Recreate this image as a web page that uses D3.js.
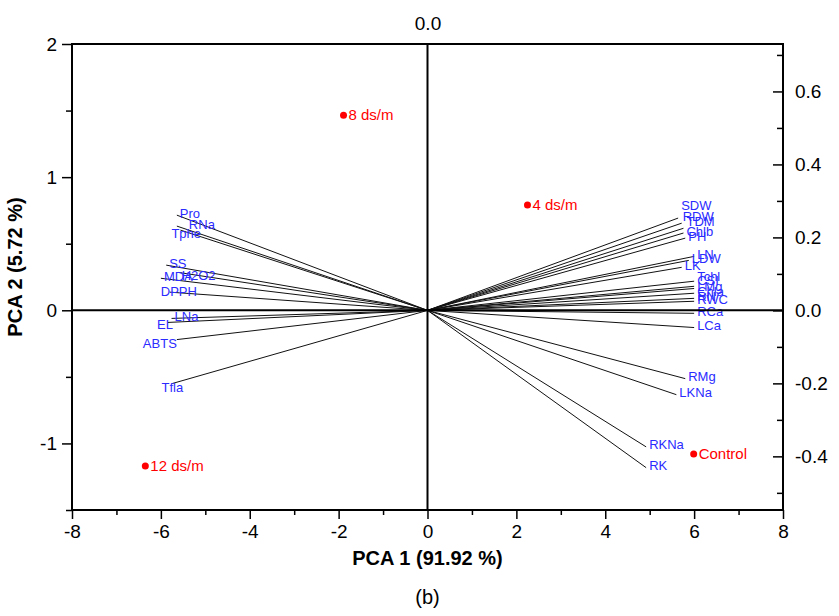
<!DOCTYPE html>
<html>
<head>
<meta charset="utf-8">
<script src="https://cdn.jsdelivr.net/npm/d3@7"></script>
<style>
  body { margin: 0; background: #fff; }
  text { font-family: "Liberation Sans", Arial, sans-serif; }
</style>
</head>
<body>
<div id="chart"></div>
<script>
const MARGIN = { TOP: 44, BOTTOM: 106, LEFT: 72, RIGHT: 56 }
const WIDTH = 839 - MARGIN.LEFT - MARGIN.RIGHT
const HEIGHT = 616 - MARGIN.TOP - MARGIN.BOTTOM

// variable loadings (top / right axis units)
const varNames = ['SDW', 'RDW', 'TDM', 'Chlb', 'PH', 'LN', 'LDW', 'LK', 'Tchl', 'CSI', 'LMg', 'Chla', 'RN', 'RWC', 'RCa', 'LCa',
  'RMg', 'LKNa', 'RKNa', 'RK',
  'Pro', 'RNa', 'Tphe', 'SS', 'MDA', 'H2O2', 'DPPH', 'LNa', 'EL', 'ABTS', 'Tfla']
const varPC1 = [0.141, 0.143, 0.144, 0.144, 0.145, 0.150, 0.147, 0.143, 0.150, 0.150, 0.150, 0.150, 0.150, 0.150, 0.150, 0.150,
  0.145, 0.140, 0.123, 0.123,
  -0.141, -0.141, -0.139, -0.147, -0.150, -0.140, -0.145, -0.144, -0.146, -0.141, -0.144]
const varPC2 = [0.253, 0.239, 0.225, 0.212, 0.198, 0.148, 0.137, 0.118, 0.080, 0.066, 0.060, 0.047, 0.033, 0.025, -0.008, -0.047,
  -0.187, -0.231, -0.374, -0.431,
  0.261, 0.231, 0.220, 0.124, 0.088, 0.104, 0.050, -0.022, -0.033, -0.080, -0.201]

// treatment scores (bottom / left axis units)
const scoreNames = ['Control', '4 ds/m', '8 ds/m', '12 ds/m']
const scorePC1 = [5.99, 2.25, -1.89, -6.35]
const scorePC2 = [-1.08, 0.79, 1.465, -1.17]

const xTicks = [-8, -6, -4, -2, 0, 2, 4, 6, 8]
const xMinor = [-7, -5, -3, -1, 1, 3, 5, 7]
const yTicks = [-1, 0, 1, 2]
const yMinor = [-1.5, -0.5, 0.5, 1.5]
const rightTicks = [-0.4, -0.2, 0.0, 0.2, 0.4, 0.6]
const rightMinor = [-0.5, -0.3, -0.1, 0.1, 0.3, 0.5, 0.7]
const topTicks = [0]

// hand-moved labels, like in the original plot (pixels)
const nudge = {
  SDW: [0, -11], RDW: [-2, -5], TDM: [0, -5], Tchl: [0, -3], CSI: [0, -4],
  RNa: [9, 0], Tphe: [-12, 5], DPPH: [-12, 1], H2O2: [0, 5],
  EL: [-14, 4], ABTS: [-37, 6], Tfla: [-13, 6]
}

// plain hyphen for negatives, as in the original
const locale = d3.formatLocale({ decimal: '.', thousands: ',', grouping: [3], currency: ['', ''], minus: '-' })

const svg = d3.select('#chart')
  .append('svg')
    .attr('width', 839)
    .attr('height', 616)
  .append('g')
    .attr('transform', `translate(${MARGIN.LEFT}, ${MARGIN.TOP})`)

const x = d3.scaleLinear().domain([-8, 8]).range([0, WIDTH])
const y = d3.scaleLinear().domain([-1.5, 2]).range([HEIGHT, 0])
const xLoad = d3.scaleLinear().domain([-0.2, 0.2]).range([0, WIDTH])
const yLoad = d3.scaleLinear().domain([-0.547, 0.730]).range([HEIGHT, 0])

const vars = varNames.map((n, i) => ({ name: n, pc1: varPC1[i], pc2: varPC2[i] }))
const scores = scoreNames.map((n, i) => ({ name: n, pc1: scorePC1[i], pc2: scorePC2[i] }))

// vectors
svg.selectAll('.vec')
  .data(vars)
  .enter()
  .append('line')
    .attr('class', 'vec')
    .attr('x1', xLoad(0))
    .attr('y1', yLoad(0))
    .attr('x2', d => xLoad(d.pc1))
    .attr('y2', d => yLoad(d.pc2))
    .attr('stroke', '#111')
    .attr('stroke-width', 1)

svg.selectAll('.vlab')
  .data(vars)
  .enter()
  .append('text')
    .attr('class', 'vlab')
    .attr('x', d => xLoad(d.pc1) + 3 + (nudge[d.name] ? nudge[d.name][0] : 0))
    .attr('y', d => yLoad(d.pc2) - 2 + (nudge[d.name] ? nudge[d.name][1] : 0))
    .attr('dy', '0.35em')
    .attr('font-size', 13)
    .attr('fill', '#2b2bff')
    .text(d => d.name)

// zero lines
svg.append('line')
  .attr('x1', 0).attr('x2', WIDTH)
  .attr('y1', y(0)).attr('y2', y(0))
  .attr('stroke', '#000').attr('stroke-width', 2)
svg.append('line')
  .attr('x1', x(0)).attr('x2', x(0))
  .attr('y1', 0).attr('y2', HEIGHT)
  .attr('stroke', '#000').attr('stroke-width', 2)

// scores
svg.selectAll('.pt')
  .data(scores)
  .enter()
  .append('circle')
    .attr('class', 'pt')
    .attr('cx', d => x(d.pc1))
    .attr('cy', d => y(d.pc2))
    .attr('r', 3.5)
    .attr('fill', 'red')

svg.selectAll('.plab')
  .data(scores)
  .enter()
  .append('text')
    .attr('class', 'plab')
    .attr('x', d => x(d.pc1) + 5)
    .attr('y', d => y(d.pc2))
    .attr('dy', '0.35em')
    .attr('font-size', 15)
    .attr('fill', 'red')
    .text(d => d.name)

// axes
const styleAxis = (g) => {
  g.select('.domain').remove()
  g.selectAll('line').attr('stroke', '#000').attr('stroke-width', 1.5)
  g.selectAll('text').attr('font-size', 19).attr('fill', '#000')
    .style('font-family', '"Liberation Sans", Arial, sans-serif')
}

svg.append('g')
  .attr('transform', `translate(0, ${HEIGHT})`)
  .call(d3.axisBottom(x).tickValues(xTicks).tickSize(9).tickPadding(6).tickFormat(locale.format('d')))
  .call(styleAxis)
svg.append('g')
  .attr('transform', `translate(0, ${HEIGHT})`)
  .call(d3.axisBottom(x).tickValues(xMinor).tickSize(5).tickFormat(''))
  .call(styleAxis)

svg.append('g')
  .call(d3.axisLeft(y).tickValues(yTicks).tickSize(10).tickPadding(5).tickFormat(locale.format('d')))
  .call(styleAxis)
svg.append('g')
  .call(d3.axisLeft(y).tickValues(yMinor).tickSize(6).tickFormat(''))
  .call(styleAxis)

svg.append('g')
  .attr('transform', `translate(${WIDTH}, 0)`)
  .call(d3.axisRight(yLoad).tickValues(rightTicks).tickSize(-10).tickPadding(12).tickFormat(locale.format('.1f')))
  .call(styleAxis)
svg.append('g')
  .attr('transform', `translate(${WIDTH}, 0)`)
  .call(d3.axisRight(yLoad).tickValues(rightMinor).tickSize(-6).tickFormat(''))
  .call(styleAxis)

svg.append('g')
  .call(d3.axisTop(xLoad).tickValues(topTicks).tickSize(0).tickPadding(14).tickFormat(locale.format('.1f')))
  .call(styleAxis)

// frame
svg.append('rect')
  .attr('x', 0).attr('y', 0)
  .attr('width', WIDTH).attr('height', HEIGHT)
  .attr('fill', 'none')
  .attr('stroke', '#000')
  .attr('stroke-width', 2)

// titles
svg.append('text')
  .attr('x', WIDTH / 2)
  .attr('y', HEIGHT + 55)
  .attr('text-anchor', 'middle')
  .attr('font-size', 20)
  .attr('font-weight', 'bold')
  .text('PCA 1 (91.92 %)')

svg.append('text')
  .attr('x', -(HEIGHT / 2) + 10)
  .attr('y', -50)
  .attr('text-anchor', 'middle')
  .attr('transform', 'rotate(-90)')
  .attr('font-size', 20)
  .attr('font-weight', 'bold')
  .text('PCA 2 (5.72 %)')

svg.append('text')
  .attr('x', WIDTH / 2)
  .attr('y', HEIGHT + 94)
  .attr('text-anchor', 'middle')
  .attr('font-size', 20)
  .text('(b)')
</script>
</body>
</html>
